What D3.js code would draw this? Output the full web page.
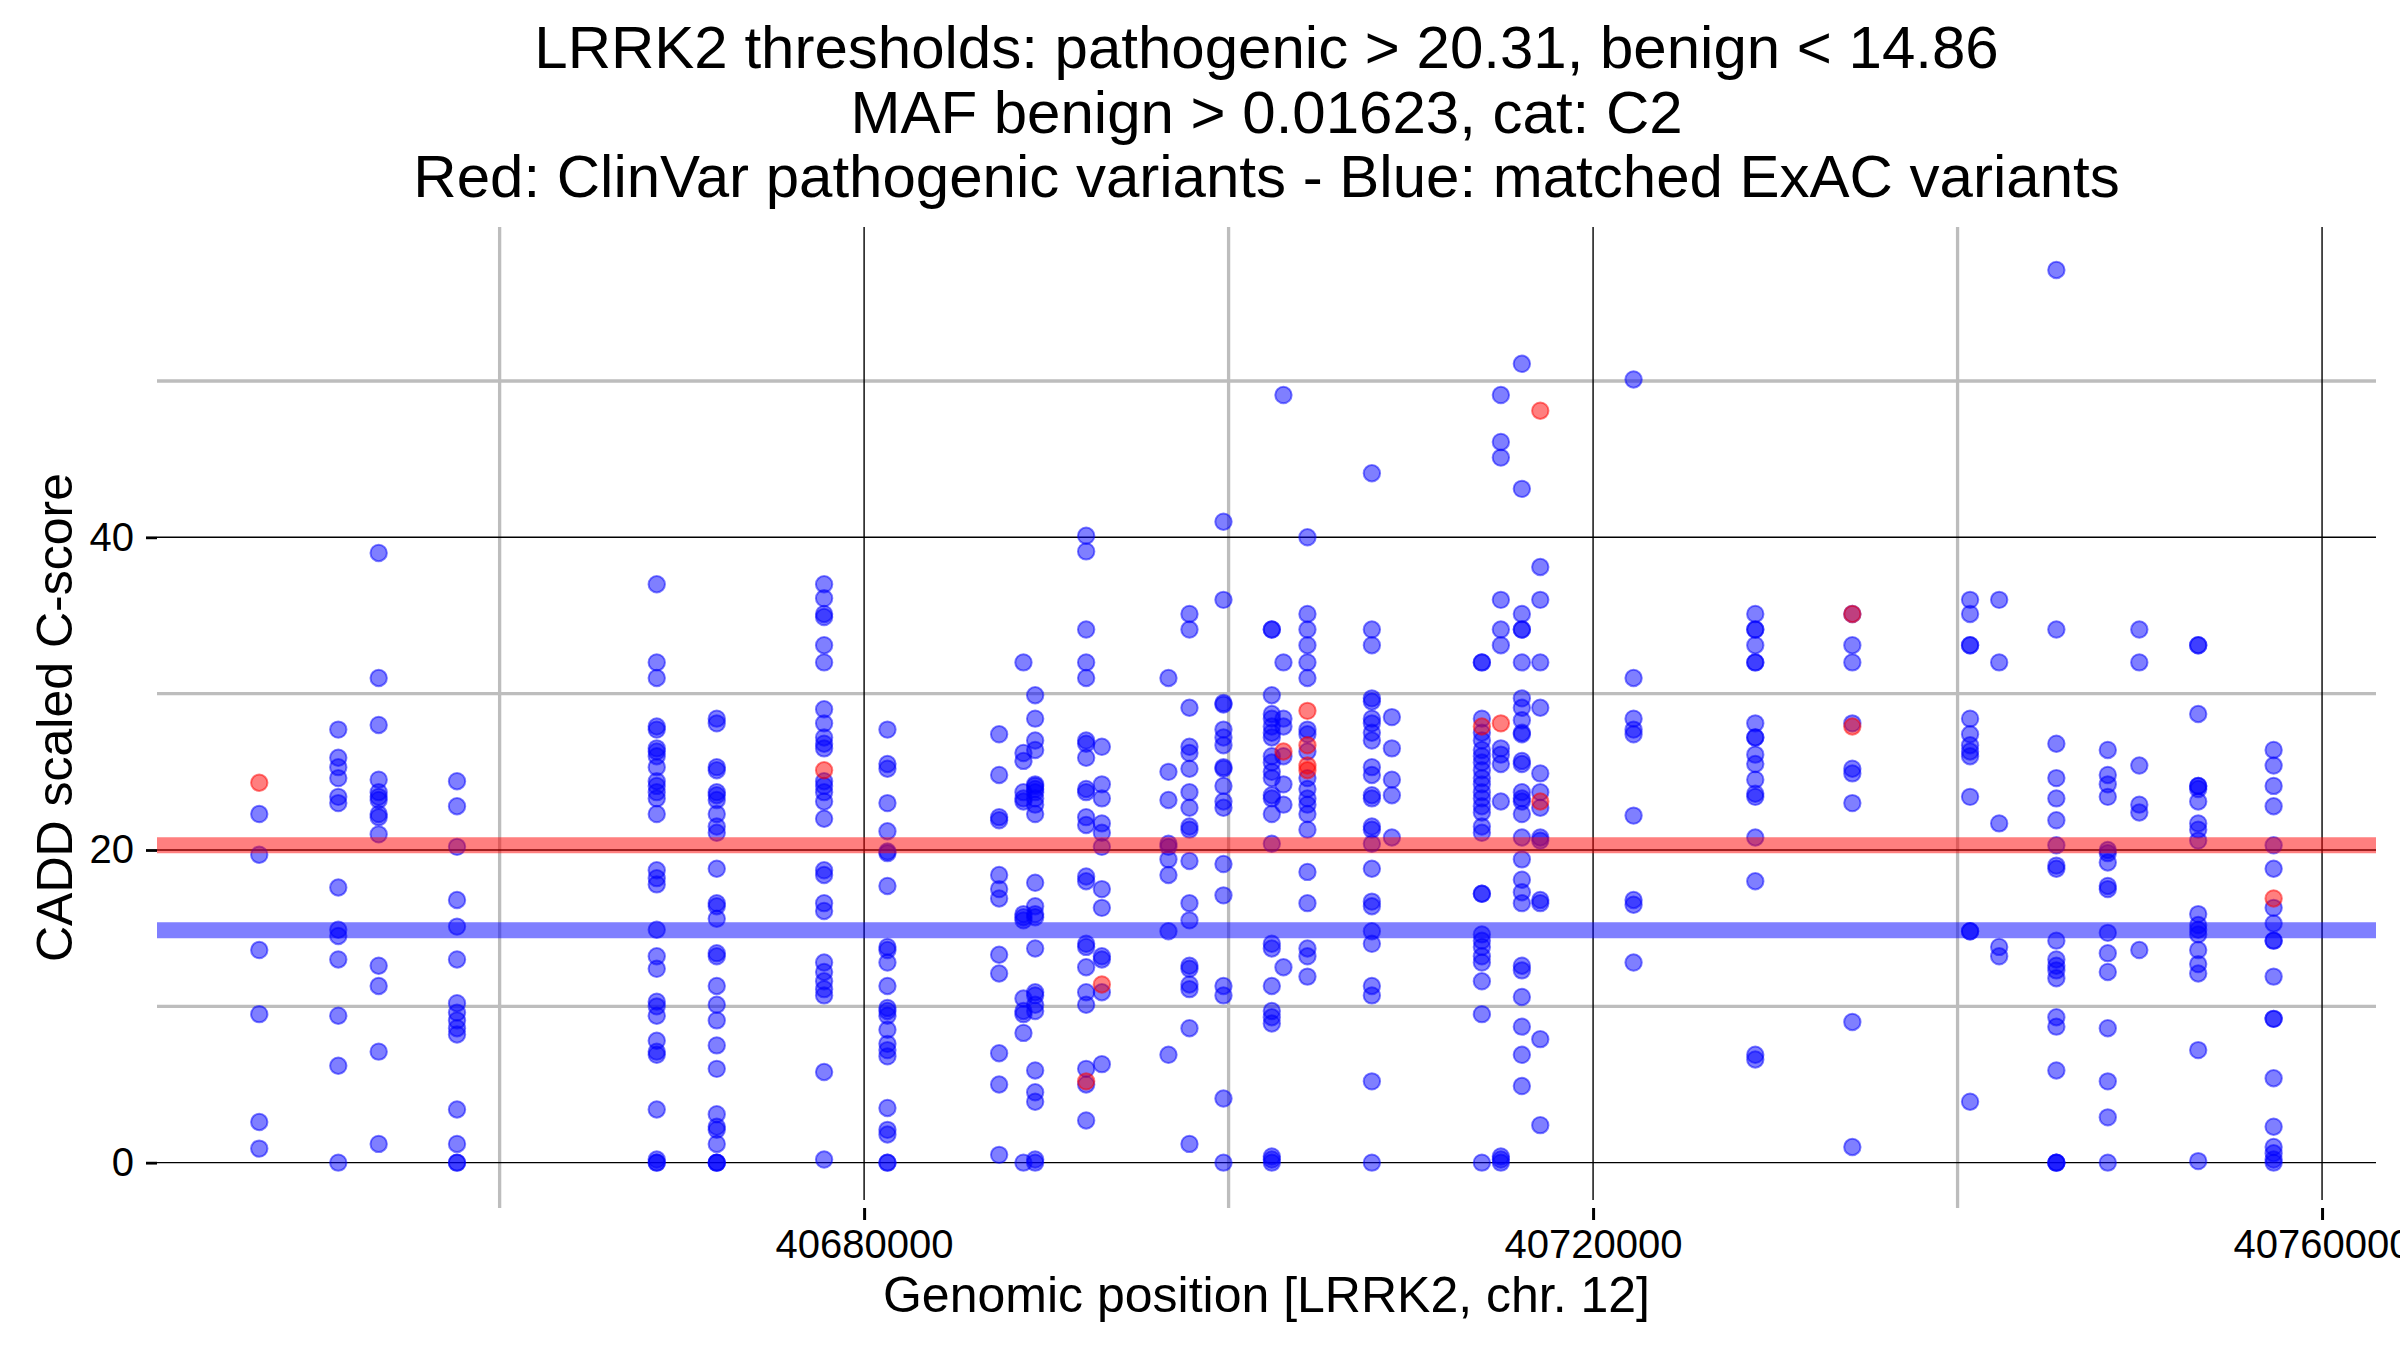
<!DOCTYPE html>
<html>
<head>
<meta charset="utf-8">
<script src="https://cdn.jsdelivr.net/npm/d3@7"></script>
<style>
  html, body { margin: 0; padding: 0; background: #ffffff; }
  svg { display: block; }
  text { font-family: "Liberation Sans", Arial, Helvetica, sans-serif; fill: #000; }
</style>
</head>
<body>
<svg id="chart" width="2400" height="1350"></svg>
<script>
// ---------------- DATA ----------------
const titleLines = [
  "LRRK2 thresholds: pathogenic > 20.31, benign < 14.86",
  "MAF benign > 0.01623, cat: C2",
  "Red: ClinVar pathogenic variants - Blue: matched ExAC variants"
];
const xLabel = "Genomic position [LRRK2, chr. 12]";
const yLabel = "CADD scaled C-score";

const pathogenicThreshold = 20.31;
const benignThreshold = 14.86;

const xTicks = [40680000, 40720000, 40760000];
const xMinorTicks = [40660000, 40700000, 40740000];
const yTicks = [0, 20, 40];
const yMinorTicks = [10, 30, 50];

// ExAC (blue) variants: genomic position of each exon cluster and its scores
const exacPositions = [
  40646811, 40651147, 40653364, 40657662, 40668622, 40671915, 40677805,
  40681281, 40687409, 40688744, 40689386, 40692184, 40693046, 40696700,
  40697853, 40699719, 40702372, 40703010, 40704327, 40707862, 40708960,
  40713898, 40714940, 40716092, 40717102, 40722222, 40728900, 40734226,
  40740686, 40742283, 40745421, 40748243, 40749972, 40753204, 40757343
];
const exacScores = [
  [22.3, 19.7, 13.6, 9.5, 2.6, 0.9],
  [27.7, 25.9, 25.3, 24.6, 23.4, 23.0, 17.6, 14.9, 14.5, 13.0, 9.4, 6.2, 0],
  [39.0, 31.0, 28.0, 24.5, 23.7, 23.4, 23.2, 22.3, 22.1, 21.0, 12.6, 11.3, 7.1, 1.2],
  [24.4, 22.8, 20.2, 16.8, 15.1, 13.0, 10.2, 9.6, 9.1, 8.6, 8.2, 3.4, 1.2, 0, 0],
  [37.0, 32.0, 31.0, 27.9, 27.7, 26.5, 26.3, 26.0, 25.3, 24.4, 24.1, 23.7, 23.3, 22.3, 18.7, 18.2, 17.8, 14.9, 13.2, 12.4, 10.3, 10.0, 9.4, 7.8, 7.1, 6.9, 3.4, 0.2, 0, 0],
  [28.4, 28.1, 25.3, 25.1, 23.7, 23.5, 23.2, 22.3, 21.5, 21.1, 18.8, 16.6, 16.4, 15.6, 13.4, 13.2, 11.3, 10.1, 9.1, 7.5, 6.0, 3.1, 2.3, 2.1, 1.2, 0, 0, 0],
  [37.0, 36.1, 35.1, 34.9, 33.1, 32.0, 29.0, 28.1, 27.2, 26.8, 26.5, 24.4, 24.1, 23.7, 23.1, 22.0, 18.7, 18.4, 16.6, 16.1, 12.8, 12.2, 11.6, 11.1, 10.7, 5.8, 0.2],
  [27.7, 25.5, 25.2, 23.0, 21.2, 19.9, 19.8, 17.7, 13.8, 13.6, 12.8, 11.3, 9.9, 9.7, 9.4, 8.5, 7.6, 7.2, 6.8, 3.5, 2.1, 1.8, 0, 0],
  [27.4, 24.8, 22.1, 21.9, 18.4, 17.5, 16.9, 13.3, 12.1, 7.0, 5.0, 0.5],
  [32.0, 26.2, 25.7, 23.7, 23.3, 23.1, 15.9, 15.7, 15.5, 10.5, 9.7, 9.5, 8.3, 0],
  [29.9, 28.4, 27.0, 26.4, 24.2, 24.1, 23.9, 23.7, 23.3, 22.9, 22.3, 17.9, 16.4, 15.9, 15.7, 13.7, 10.9, 10.7, 10.1, 9.7, 5.9, 4.5, 3.9, 0.2, 0],
  [40.1, 39.1, 34.1, 32.0, 31.0, 27.0, 26.8, 25.9, 23.9, 23.7, 22.1, 21.6, 18.3, 18.0, 14.0, 13.8, 12.5, 10.9, 10.1, 6.0, 5.0, 2.7],
  [26.6, 24.2, 23.3, 21.7, 21.1, 20.2, 17.5, 16.3, 13.2, 13.0, 10.9, 6.3],
  [31.0, 25.0, 23.2, 20.4, 20.2, 19.4, 18.4, 14.8, 6.9],
  [35.1, 34.1, 29.1, 26.6, 26.2, 25.2, 23.7, 22.7, 21.5, 21.3, 19.3, 16.6, 15.5, 12.6, 12.4, 11.4, 11.1, 8.6, 1.2],
  [41.0, 36.0, 29.4, 29.3, 27.7, 27.2, 26.7, 25.3, 25.2, 24.1, 23.1, 22.7, 19.1, 17.1, 11.3, 10.7, 4.1, 0],
  [34.1, 34.1, 29.9, 28.7, 28.4, 27.9, 27.5, 27.2, 26.0, 25.6, 25.0, 24.6, 23.5, 23.3, 22.3, 20.4, 14.0, 13.7, 11.3, 9.7, 9.3, 8.9, 0.4, 0.2, 0],
  [49.1, 32.0, 28.4, 27.9, 26.0, 24.2, 22.9, 12.5],
  [40.0, 35.1, 34.1, 33.1, 32.0, 31.0, 27.7, 27.4, 26.3, 24.6, 23.9, 23.3, 22.9, 22.3, 21.3, 18.6, 16.6, 13.7, 13.2, 11.9],
  [44.1, 34.1, 33.1, 29.7, 29.5, 28.4, 28.1, 27.5, 27.0, 25.3, 24.8, 23.5, 23.3, 21.5, 21.3, 20.4, 18.8, 16.7, 16.4, 14.8, 14.0, 11.3, 10.7, 5.2, 0],
  [28.5, 26.5, 24.5, 23.5, 20.8],
  [32.0, 32.0, 28.4, 27.5, 27.0, 26.4, 26.0, 25.6, 25.1, 24.6, 24.2, 23.7, 23.3, 22.8, 22.4, 21.5, 21.1, 17.2, 17.2, 14.6, 14.2, 13.8, 13.2, 12.8, 11.6, 9.5, 0],
  [49.1, 46.1, 45.1, 36.0, 34.1, 33.1, 26.5, 26.1, 25.5, 23.1, 0.4, 0.2, 0],
  [51.1, 43.1, 35.1, 34.1, 34.1, 32.0, 29.7, 29.1, 28.3, 27.5, 27.4, 25.7, 25.5, 23.7, 23.3, 23.1, 22.3, 20.8, 19.4, 18.1, 17.3, 16.6, 12.6, 12.3, 10.6, 8.7, 6.9, 4.9],
  [38.1, 36.0, 32.0, 29.1, 24.9, 23.7, 22.7, 20.8, 20.6, 16.8, 16.6, 7.9, 2.4],
  [50.1, 31.0, 28.4, 27.7, 27.4, 22.2, 16.8, 16.5, 12.8],
  [35.1, 34.1, 34.1, 33.1, 32.0, 32.0, 28.1, 27.2, 27.2, 26.1, 25.5, 24.5, 23.6, 23.4, 20.8, 18.0, 6.9, 6.6],
  [35.1, 33.1, 32.0, 28.1, 25.2, 24.9, 23.0, 9.0, 1.0],
  [36.0, 35.1, 33.1, 33.1, 28.4, 27.4, 26.7, 26.3, 26.0, 23.4, 14.8, 14.8, 3.9],
  [36.0, 32.0, 21.7, 13.8, 13.2],
  [57.1, 34.1, 26.8, 24.6, 23.3, 21.9, 20.3, 19.0, 18.8, 14.2, 13.0, 12.6, 12.3, 11.8, 9.3, 8.7, 5.9, 0, 0, 0],
  [26.4, 24.8, 24.2, 23.4, 20.0, 19.8, 19.2, 17.7, 17.5, 14.7, 13.4, 12.2, 8.6, 5.2, 2.9, 0],
  [34.1, 32.0, 25.4, 22.9, 22.4, 13.6],
  [33.1, 33.1, 28.7, 24.1, 24.1, 23.9, 23.1, 21.7, 21.3, 20.6, 15.9, 15.2, 14.9, 14.6, 13.6, 12.7, 12.1, 7.2, 0.1],
  [26.4, 25.4, 24.1, 22.8, 20.3, 18.8, 16.3, 15.3, 14.2, 14.2, 11.9, 9.2, 9.2, 5.4, 2.3, 1.0, 0.6, 0.2, 0]
];

// ClinVar pathogenic (red) variants
const clinvarPositions = [
  40646811, 40677805, 40692184, 40693046, 40703010, 40704327, 40704327, 40704327,
  40704327, 40713898, 40714940, 40717102, 40717102, 40734226, 40734226, 40757343
];
const clinvarScores = [
  24.3, 25.1, 5.2, 11.4, 26.3, 28.9, 26.7, 25.4,
  25.1, 27.9, 28.1, 48.1, 23.1, 35.1, 27.9, 16.9
];

// ---------------- LAYOUT ----------------
const panel = { left: 157, right: 2376, top: 227, bottom: 1208 };
const xDomain = [40641200, 40762960];
const yDomain = [-2.9, 59.85];

const svg = d3.select("#chart");
svg.append("rect").attr("width", 2400).attr("height", 1350).attr("fill", "#ffffff");

const x = d3.scaleLinear().domain(xDomain).range([panel.left, panel.right]);
const y = d3.scaleLinear().domain(yDomain).range([panel.bottom, panel.top]);

const grid = svg.append("g");
// minor grid (gray, thick)
grid.selectAll(".vminor").data(xMinorTicks).enter().append("line")
  .attr("x1", d => x(d)).attr("x2", d => x(d))
  .attr("y1", panel.top).attr("y2", panel.bottom)
  .attr("stroke", "#bdbdbd").attr("stroke-width", 3.3);
grid.selectAll(".hminor").data(yMinorTicks).enter().append("line")
  .attr("x1", panel.left).attr("x2", panel.right)
  .attr("y1", d => y(d)).attr("y2", d => y(d))
  .attr("stroke", "#bdbdbd").attr("stroke-width", 3.3);
// major grid (black, thin)
grid.selectAll(".vmajor").data(xTicks).enter().append("line")
  .attr("x1", d => x(d)).attr("x2", d => x(d))
  .attr("y1", panel.top).attr("y2", panel.bottom - 8)
  .attr("stroke", "#000000").attr("stroke-width", 1.4);
grid.selectAll(".hmajor").data(yTicks).enter().append("line")
  .attr("x1", panel.left).attr("x2", panel.right)
  .attr("y1", d => y(d)).attr("y2", d => y(d))
  .attr("stroke", "#000000").attr("stroke-width", 1.4);

// points
const bluePoints = [];
exacPositions.forEach((p, i) => exacScores[i].forEach(s => bluePoints.push([p, s])));
const redPoints = clinvarPositions.map((p, i) => [p, clinvarScores[i]]);

const pts = svg.append("g");
pts.selectAll(".b").data(bluePoints).enter().append("circle")
  .attr("cx", d => x(d[0])).attr("cy", d => y(d[1])).attr("r", 8.2)
  .attr("fill", "rgba(0,0,255,0.5)").attr("stroke", "rgba(0,0,255,0.5)").attr("stroke-width", 2);
pts.selectAll(".r").data(redPoints).enter().append("circle")
  .attr("cx", d => x(d[0])).attr("cy", d => y(d[1])).attr("r", 8.2)
  .attr("fill", "rgba(255,0,0,0.5)").attr("stroke", "rgba(255,0,0,0.5)").attr("stroke-width", 2);

// threshold bands
const bands = [
  { v: pathogenicThreshold, c: "rgba(255,0,0,0.5)" },
  { v: benignThreshold, c: "rgba(0,0,255,0.5)" }
];
svg.append("g").selectAll("line").data(bands).enter().append("line")
  .attr("x1", panel.left).attr("x2", panel.right)
  .attr("y1", d => y(d.v)).attr("y2", d => y(d.v))
  .attr("stroke", d => d.c).attr("stroke-width", 16);

// axes ticks
const xAxis = d3.axisBottom(x).tickValues(xTicks).tickSize(12).tickPadding(10)
  .tickFormat(d => d3.format("d")(d));
const gx = svg.append("g").attr("transform", `translate(0,${panel.bottom})`).call(xAxis);
gx.select(".domain").remove();
gx.selectAll(".tick line").attr("stroke", "#000").attr("stroke-width", 3);
gx.selectAll(".tick text").attr("font-size", 40).attr("fill", "#000")
  .attr("font-family", '"Liberation Sans", Arial, sans-serif');

const yAxis = d3.axisLeft(y).tickValues(yTicks).tickSize(11).tickPadding(12);
const gy = svg.append("g").attr("transform", `translate(${panel.left},0)`).call(yAxis);
gy.select(".domain").remove();
gy.selectAll(".tick line").attr("stroke", "#000").attr("stroke-width", 2.8);
gy.selectAll(".tick text").attr("font-size", 40).attr("fill", "#000")
  .attr("font-family", '"Liberation Sans", Arial, sans-serif');

// titles
const cx = (panel.left + panel.right) / 2;
svg.append("g").selectAll("text").data(titleLines).enter().append("text")
  .attr("x", cx).attr("y", (d, i) => 68 + i * 64.5)
  .attr("text-anchor", "middle").attr("font-size", 60).text(d => d);

svg.append("text").attr("x", cx).attr("y", 1312)
  .attr("text-anchor", "middle").attr("font-size", 50).text(xLabel);

svg.append("text")
  .attr("transform", `translate(72,${(panel.top + panel.bottom) / 2}) rotate(-90)`)
  .attr("text-anchor", "middle").attr("font-size", 50).text(yLabel);
</script>
</body>
</html>
